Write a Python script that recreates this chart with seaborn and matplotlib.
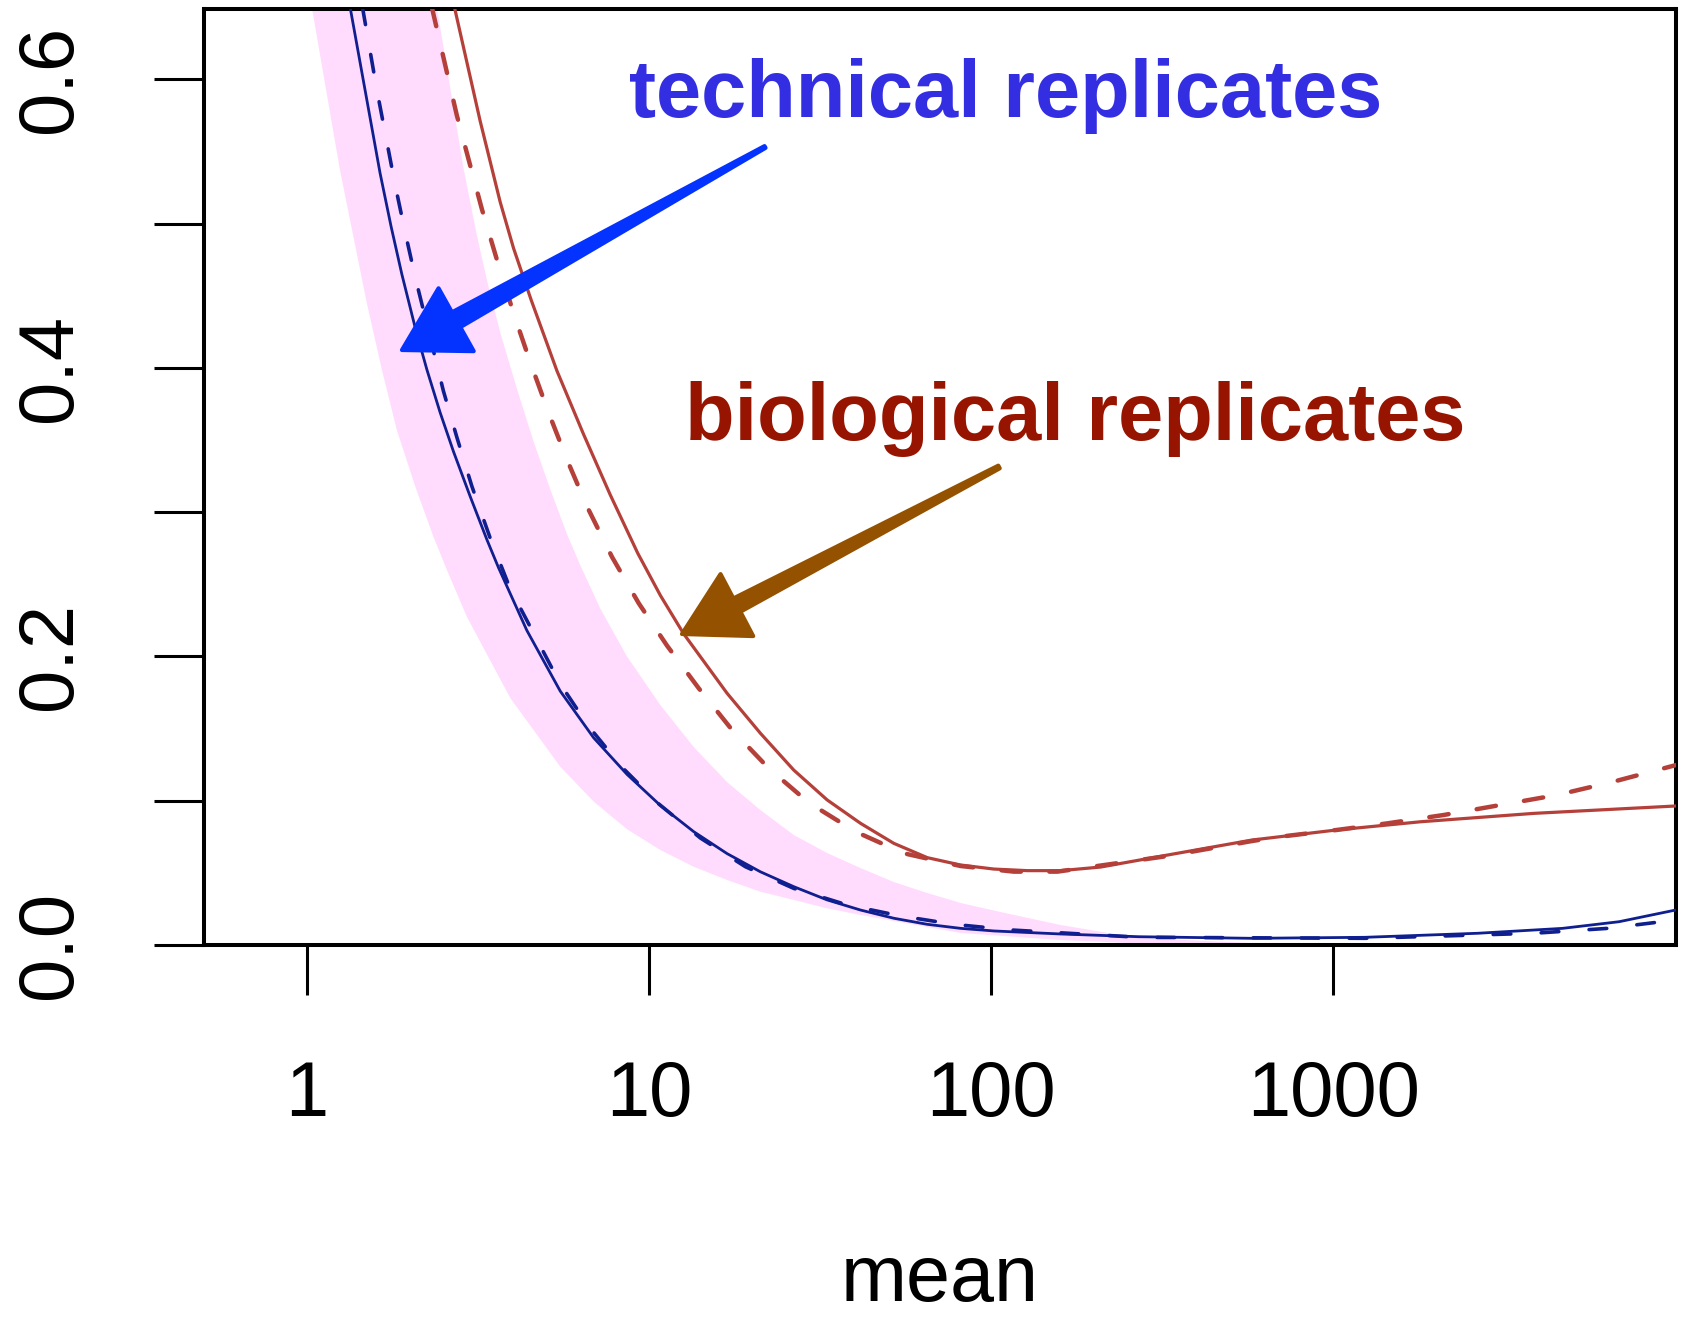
import numpy as np
import matplotlib
matplotlib.use("Agg")
import matplotlib.pyplot as plt
import seaborn as sns
from matplotlib.patches import Polygon
from matplotlib.ticker import NullLocator

# Squared coefficient of variation against mean count

# technical replicates: fitted trend (solid) and expected trend (dashed)
tech_fit_mean = [1.338, 1.637, 1.763, 1.895, 2.073, 2.242, 2.453, 2.683, 3.001, 3.359,
                 3.633, 4.397, 5.503, 6.887, 8.625, 10.79, 13.51, 16.91, 21.16, 26.48,
                 33.16, 41.50, 51.94, 65.04, 81.37, 101.8, 159.6, 270.6, 577.8, 1236,
                 2643, 4672, 6833, 10000]
tech_fit_cv2 = [0.650, 0.535, 0.498, 0.465, 0.428, 0.399, 0.369, 0.342, 0.311, 0.281,
                0.2615, 0.218, 0.176, 0.1437, 0.1183, 0.0968, 0.0786, 0.0634, 0.0508,
                0.0405, 0.0313, 0.0243, 0.0186, 0.0144, 0.0116, 0.0098, 0.0077, 0.0058,
                0.0047, 0.0054, 0.0082, 0.0116, 0.0162, 0.0243]

tech_exp_mean = [1.454, 1.601, 1.811, 1.938, 2.073, 2.507, 2.744, 3.036, 3.435, 3.929,
                 5.503, 6.656, 8.337, 10.67, 14.13, 19.13, 26.48, 37.95, 54.33, 77.79,
                 113.9, 270.6, 1236, 3859, 6331, 10000]
tech_exp_cv2 = [0.650, 0.593, 0.527, 0.494, 0.463, 0.384, 0.352, 0.318, 0.282, 0.247,
                0.181, 0.1517, 0.1233, 0.0979, 0.0742, 0.0543, 0.0393, 0.0278, 0.0202,
                0.0144, 0.0105, 0.0054, 0.0047, 0.0082, 0.0116, 0.0174]

# biological replicates: fitted trend (solid) and expected trend (dashed)
bio_fit_mean = [2.70, 3.211, 3.673, 4.018, 4.526, 5.381, 6.437, 7.705, 9.273, 10.79,
                12.62, 16.91, 21.16, 26.48, 33.16, 41.50, 51.94, 65.04, 81.37, 101.8,
                127.5, 159.6, 208.9, 327.2, 577.8, 1023, 1803, 3859, 10000]
bio_fit_cv2 = [0.650, 0.571, 0.515, 0.483, 0.447, 0.398, 0.354, 0.312, 0.2715, 0.2424,
               0.2158, 0.1745, 0.1468, 0.1213, 0.1006, 0.0844, 0.0705, 0.0606, 0.0555,
               0.0527, 0.0516, 0.0516, 0.0541, 0.0624, 0.0728, 0.0798, 0.0855, 0.0913,
               0.0964]

bio_exp_mean = [2.319, 2.744, 3.036, 3.248, 3.593, 4.018, 4.496, 5.087, 5.757, 6.587,
                7.795, 9.325, 11.29, 13.97, 17.49, 22.38, 29.30, 40.13, 55.56, 81.37,
                116.5, 156.1, 232.4, 327.2, 577.8, 697.5, 1023, 1440, 2105, 3078, 4500,
                6569, 10000]
bio_exp_cv2 = [0.650, 0.575, 0.536, 0.510, 0.475, 0.438, 0.404, 0.369, 0.3365, 0.304,
               0.269, 0.237, 0.2075, 0.178, 0.1491, 0.1225, 0.0987, 0.0786, 0.0636,
               0.0548, 0.0509, 0.0509, 0.0567, 0.0617, 0.0721, 0.0751, 0.0798, 0.0844,
               0.0902, 0.0971, 0.1040, 0.1132, 0.1247]

# pink band: technical-noise range (upper and lower edge)
band_upper_mean = [2.399, 2.869, 3.140, 3.359, 3.673, 4.111, 4.598, 5.144, 5.757, 6.296,
                   7.204, 8.625, 10.79, 13.51, 16.91, 21.16, 26.48, 33.16, 41.50, 51.94,
                   65.04, 81.37, 106.6, 159.6, 269.9, 573.8, 10000]
band_upper_cv2 = [0.650, 0.5385, 0.492, 0.461, 0.4247, 0.3856, 0.349, 0.3159, 0.2849,
                  0.2633, 0.2332, 0.2000, 0.1664, 0.1373, 0.1130, 0.0936, 0.0763, 0.0638,
                  0.0534, 0.0437, 0.0361, 0.0292, 0.0229, 0.0139, 0.0049, 0.0015, 0.0011]
band_lower_mean = [1.034, 1.250, 1.368, 1.497, 1.656, 1.832, 2.073, 2.344, 2.566, 2.936,
                   3.929, 5.503, 6.887, 8.625, 10.79, 13.51, 16.91, 21.16, 26.48, 33.16,
                   41.50, 51.94, 81.37, 159.6, 292.6, 577.8, 10000]
band_lower_cv2 = [0.650, 0.537, 0.491, 0.445, 0.399, 0.357, 0.318, 0.283, 0.260, 0.2275,
                  0.1713, 0.1236, 0.0995, 0.0803, 0.0659, 0.0543, 0.0451, 0.0370, 0.0313,
                  0.0255, 0.0209, 0.0167, 0.0084, 0.0035, 0.0008, 0.0, 0.0]

x_ticks = [1, 10, 100, 1000]
x_tick_labels = ["1", "10", "100", "1000"]
y_ticks = [0.0, 0.1, 0.2, 0.3, 0.4, 0.5, 0.6]
y_tick_labels = ["0.0", "", "0.2", "", "0.4", "", "0.6"]

BLUE = "#0f1f8f"
RED = "#b5403a"
BAND = "#ffdcfe"

sns.set_style("ticks")
plt.rcParams["font.family"] = ["Liberation Sans", "DejaVu Sans"]

W, H = 1682, 1322
fig = plt.figure(figsize=(W / 100, H / 100), dpi=100)
ax = fig.add_axes([0.12117, 0.28510, 0.87503, 0.70840])
ax.set_xscale("log")

ax.fill(np.concatenate([band_upper_mean, band_lower_mean[::-1]]),
        np.concatenate([band_upper_cv2, band_lower_cv2[::-1]]),
        color=BAND, lw=0, zorder=1)

sns.lineplot(x=tech_fit_mean, y=tech_fit_cv2, ax=ax, color=BLUE, linewidth=2.0,
             estimator=None, sort=False, zorder=3)
sns.lineplot(x=tech_exp_mean, y=tech_exp_cv2, ax=ax, color=BLUE, linewidth=2.6,
             linestyle=(0, (4.9, 8.4)), dash_capstyle="round",
             estimator=None, sort=False, zorder=3)
sns.lineplot(x=bio_fit_mean, y=bio_fit_cv2, ax=ax, color=RED, linewidth=2.3,
             estimator=None, sort=False, zorder=4)
sns.lineplot(x=bio_exp_mean, y=bio_exp_cv2, ax=ax, color=RED, linewidth=3.2,
             linestyle=(0, (4.4, 6.4)), dash_capstyle="round",
             estimator=None, sort=False, zorder=4)

ax.set_xlim(0.5, 1e4)
ax.set_ylim(0, 0.649)
ax.set_xticks(x_ticks)
ax.set_xticklabels(x_tick_labels)
ax.xaxis.set_minor_locator(NullLocator())
ax.set_yticks(y_ticks)
ax.set_yticklabels(y_tick_labels, rotation=90, va="center")

ax.tick_params(direction="out", length=36, width=2.2, color="black",
               labelsize=56, labelcolor="black")
ax.tick_params(axis="x", pad=46)
ax.tick_params(axis="y", pad=48)
for sp in ax.spines.values():
    sp.set_visible(True)
    sp.set_linewidth(2.9)
    sp.set_color("black")

ax.set_ylabel("")
ax.set_xlabel("mean", fontsize=57, color="black")
ax.xaxis.set_label_coords(0.5, -0.318)


def tapered_arrow(tail, tip, color, w_tail, w_neck, head_len, head_w):
    """Brush-like arrow in pixel coordinates measured from the top-left corner."""
    tail = np.array(tail, float)
    tip = np.array(tip, float)
    d = tip - tail
    u = d / np.hypot(*d)
    n = np.array([-u[1], u[0]])
    neck = tip - u * head_len
    pts = [tail + n * w_tail / 2, neck + n * w_neck / 2, neck + n * head_w / 2, tip,
           neck - n * head_w / 2, neck - n * w_neck / 2, tail - n * w_tail / 2]
    pts = np.array([[p[0] / W, 1 - p[1] / H] for p in pts])
    fig.patches.append(Polygon(pts, closed=True, transform=fig.transFigure,
                               facecolor=color, edgecolor=color, lw=3,
                               joinstyle="round", zorder=10))


tapered_arrow((765, 147), (402, 350), "#0433ff", 2, 17, 62, 72)
tapered_arrow((999, 467), (682, 634), "#945200", 3, 15, 62, 70)

fig.text(0.5979, 0.9117, "technical replicates", ha="center", va="baseline",
         fontsize=58.5, fontweight="bold", color="#332ee2", zorder=11)
fig.text(0.6391, 0.6672, "biological replicates", ha="center", va="baseline",
         fontsize=58.5, fontweight="bold", color="#961400", zorder=11)

fig.savefig("out.png", dpi=100, facecolor="white")
